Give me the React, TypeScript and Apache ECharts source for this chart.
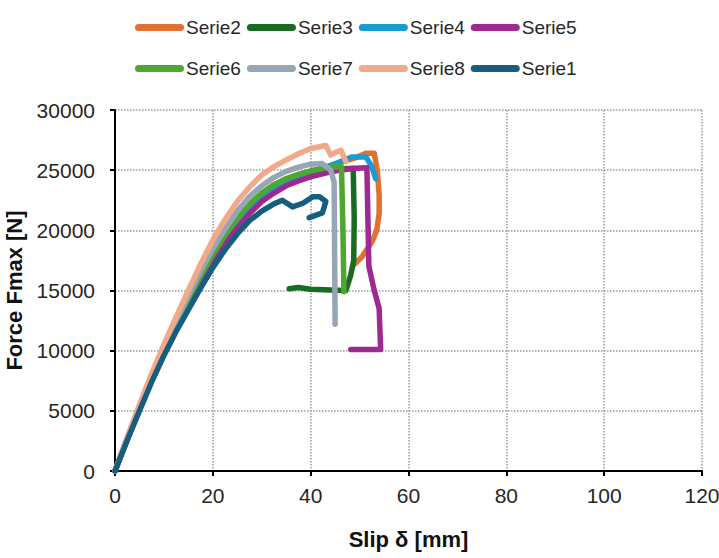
import { useEffect, useRef } from "react";
import * as echarts from "echarts";

const legendRow1 = ["Serie2", "Serie3", "Serie4", "Serie5"];
const legendRow2 = ["Serie6", "Serie7", "Serie8", "Serie1"];

const serie2 = [
  [0, 0], [2.5, 2650], [5, 5250], [7.5, 7800], [10, 10100], [12.5, 12200], [15, 14200], [17.5, 16000],
  [20, 17700], [22.5, 19300], [25, 20700], [27.5, 21900], [30, 22800], [32.5, 23500], [35, 24000],
  [37.5, 24450], [40, 24850], [43, 25250], [46, 25650], [49, 26000], [51.3, 26400], [53, 26400],
  [53.6, 25000], [54, 23000], [54, 21400], [53.5, 20000], [52.6, 19100], [50.5, 17800], [49, 17200],
];
const serie3 = [
  [0, 0], [2.5, 2650], [5, 5250], [7.5, 7800], [10, 10100], [12.5, 12200], [15, 14200], [17.5, 16000],
  [20, 17800], [22.5, 19400], [25, 20800], [27.5, 22000], [30, 22900], [32.5, 23600], [35, 24100],
  [37.5, 24500], [40, 24800], [43, 25000], [46, 25100], [48.7, 25150], [48.9, 21000], [48.8, 17500],
  [48.2, 16300], [47.2, 15000], [44, 15050], [40, 15100], [37.5, 15250], [35.6, 15150],
];
const serie4 = [
  [0, 0], [2.5, 2650], [5, 5250], [7.5, 7800], [10, 10000], [12.5, 12100], [15, 14100], [17.5, 15900],
  [20, 17600], [22.5, 19200], [25, 20500], [27.5, 21700], [30, 22700], [32.5, 23400], [35, 24000],
  [37.5, 24400], [40, 24800], [43, 25200], [46, 25700], [48.5, 26100], [51.3, 26100], [52.5, 25300],
  [53.3, 24300],
];
const serie5 = [
  [0, 0], [2.5, 2600], [5, 5150], [7.5, 7600], [10, 9900], [12.5, 11900], [15, 13800], [17.5, 15600],
  [20, 17300], [22.5, 18900], [25, 20200], [27.5, 21400], [30, 22400], [32.5, 23100], [35, 23700],
  [37.5, 24100], [40, 24450], [43, 24750], [46, 25000], [49, 25150], [51.5, 25200], [51.7, 21000],
  [51.9, 17000], [53, 15000], [54, 13500], [54.3, 10100], [51, 10100], [48.2, 10100],
];
const serie6 = [
  [0, 0], [2.5, 2700], [5, 5350], [7.5, 7900], [10, 10200], [12.5, 12300], [15, 14300], [17.5, 16200],
  [20, 18000], [22.5, 19600], [25, 21000], [27.5, 22200], [30, 23100], [32.5, 23800], [35, 24300],
  [37.5, 24650], [40, 24950], [43, 25200], [46.3, 25300], [46.6, 20000], [46.8, 14900],
];
const serie7 = [
  [0, 0], [2.5, 2750], [5, 5400], [7.5, 8000], [10, 10300], [12.5, 12500], [15, 14600], [17.5, 16600],
  [20, 18500], [22.5, 20100], [25, 21600], [27.5, 22800], [30, 23700], [32.5, 24400], [35, 24900],
  [37.5, 25250], [40, 25500], [42.4, 25550], [44.1, 25000], [44.8, 24000], [44.9, 18000], [45, 12200],
];
const serie8 = [
  [0, 0], [2.5, 2800], [5, 5500], [7.5, 8100], [10, 10500], [12.5, 12800], [15, 15000], [17.5, 17200],
  [20, 19200], [22.5, 20900], [25, 22400], [27.5, 23600], [30, 24600], [32.5, 25300], [35, 25850],
  [37.7, 26400], [40, 26800], [43.1, 27050], [44.1, 26250], [45.2, 26500], [46.2, 26650], [47.2, 25700],
];
const serie1 = [
  [0, 0], [2.5, 2550], [5, 5000], [7.5, 7400], [10, 9600], [12.5, 11600], [15, 13400], [17.5, 15200],
  [20, 16900], [22.5, 18400], [25, 19700], [27.5, 20800], [30, 21600], [32.5, 22200], [34.2, 22500],
  [36.3, 21950], [38.4, 22250], [40.5, 22800], [41.8, 22800], [43.1, 22400], [42.4, 21450], [39.7, 21050],
];

const seriesList = [
  { name: "Serie2", data: serie2, color: "#E2702F" },
  { name: "Serie3", data: serie3, color: "#196B24" },
  { name: "Serie4", data: serie4, color: "#1A9BD2" },
  { name: "Serie5", data: serie5, color: "#9E2A91" },
  { name: "Serie6", data: serie6, color: "#4EA72E" },
  { name: "Serie7", data: serie7, color: "#97A6B6" },
  { name: "Serie8", data: serie8, color: "#F2A88A" },
  { name: "Serie1", data: serie1, color: "#165E80" },
];

const FONT = "Liberation Sans, Arial, sans-serif";
const legendIcon = "path://M3.5,0 H45.5 A3.5,3.5 0 0 1 45.5,7 H3.5 A3.5,3.5 0 0 1 3.5,0 Z";

export default function App() {
  const ref = useRef<HTMLDivElement>(null);
  useEffect(() => {
    if (!ref.current) return;
    const chart = echarts.init(ref.current, null, { renderer: "svg" });
    const legendBase = {
      left: 135,
      padding: 0,
      itemWidth: 49,
      itemHeight: 7,
      itemGap: 6,
      icon: legendIcon,
      textStyle: { fontFamily: FONT, fontSize: 19, color: "#262626", padding: [0, 0, 0, -3] },
    };
    chart.setOption({
      animation: false,
      backgroundColor: "#ffffff",
      legend: [
        { ...legendBase, top: 18, data: legendRow1 },
        { ...legendBase, top: 59, data: legendRow2 },
      ],
      grid: { left: 115, right: 17, top: 110, bottom: 87, containLabel: false, outerBoundsMode: "none" },
      xAxis: {
        type: "value",
        min: 0,
        max: 120,
        interval: 20,
        name: "Slip δ [mm]",
        nameLocation: "middle",
        nameGap: 57,
        nameTextStyle: { fontFamily: FONT, fontSize: 22, fontWeight: "bold", color: "#111" },
        axisLine: { onZero: false, lineStyle: { color: "#000", width: 2 } },
        axisTick: { show: true, length: 5, lineStyle: { color: "#000", width: 2 } },
        axisLabel: { margin: 14, fontFamily: FONT, fontSize: 21, color: "#262626" },
        splitLine: { show: true, lineStyle: { type: "dotted", color: "#9a9a9a", width: 1.5 } },
      },
      yAxis: {
        type: "value",
        min: 0,
        max: 30000,
        interval: 5000,
        name: "Force Fmax [N]",
        nameLocation: "middle",
        nameGap: 88,
        nameTextStyle: { fontFamily: FONT, fontSize: 22, fontWeight: "bold", color: "#111" },
        axisLine: { show: true, lineStyle: { color: "#000", width: 2 } },
        axisTick: { show: true, length: 5, lineStyle: { color: "#000", width: 2 } },
        axisLabel: {
          margin: 20,
          fontFamily: FONT,
          fontSize: 21,
          color: "#262626",
          formatter: (v: number) => String(v),
        },
        splitLine: { show: true, lineStyle: { type: "dotted", color: "#9a9a9a", width: 1.5 } },
      },
      series: seriesList.map((s) => ({
        name: s.name,
        type: "line",
        data: s.data,
        showSymbol: false,
        symbol: "none",
        smooth: false,
        color: s.color,
        lineStyle: { width: 5.5, color: s.color, cap: "round", join: "round" },
      })),
    });
    return () => chart.dispose();
  }, []);
  return <div ref={ref} style={{ width: 719, height: 558, position: "absolute", left: 0, top: 0 }} />;
}
